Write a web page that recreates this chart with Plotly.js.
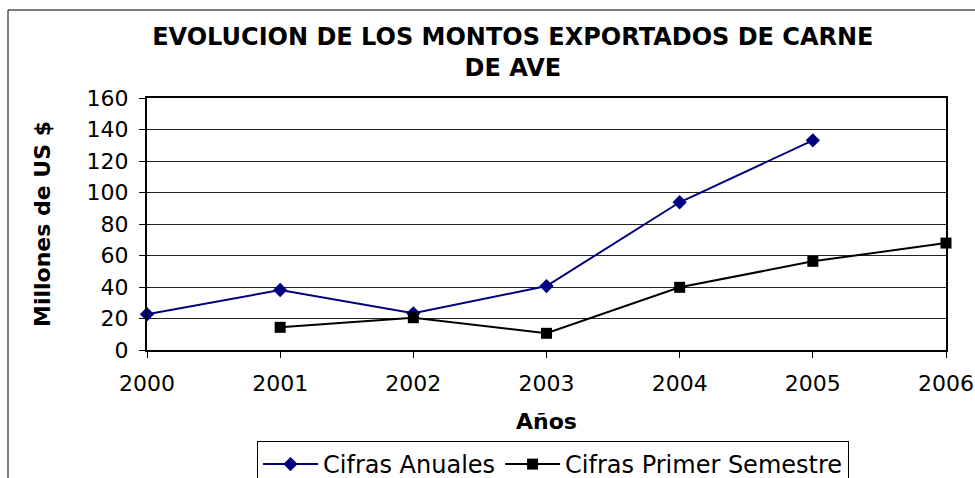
<!DOCTYPE html>
<html>
<head>
<meta charset="utf-8">
<script src="https://cdn.plot.ly/plotly-3.0.1.min.js"></script>
<style>
  html, body { margin: 0; padding: 0; background: #fff; }
  #chart { width: 975px; height: 478px; }
</style>
</head>
<body>
<div id="chart"></div>
<script>
// Data
const years = [2000, 2001, 2002, 2003, 2004, 2005, 2006];
const tickLabels = ['2000', '2001', '2002', '2003', '2004', '2005', '2006'];
const cifrasAnuales = [22.7, 38.1, 23.3, 40.6, 93.8, 133.1, null];
const cifrasPrimerSemestre = [null, 14.4, 20.5, 10.6, 39.8, 56.3, 67.9];
const yTicks = [0, 20, 40, 60, 80, 100, 120, 140, 160];

const FONT = 'DejaVu Sans, Verdana, sans-serif';

const traces = [
  {
    x: years, y: cifrasAnuales, name: 'Cifras Anuales',
    type: 'scatter', mode: 'lines+markers', connectgaps: false,
    line: { color: '#000080', width: 2 },
    marker: { symbol: 'diamond', size: 11, color: '#000080' },
    cliponaxis: false
  },
  {
    x: years, y: cifrasPrimerSemestre, name: 'Cifras Primer Semestre',
    type: 'scatter', mode: 'lines+markers', connectgaps: false,
    line: { color: '#000000', width: 2 },
    marker: { symbol: 'square', size: 11, color: '#000000' },
    cliponaxis: false
  }
];

const layout = {
  width: 975, height: 478,
  margin: { l: 147, r: 29, t: 98, b: 128, autoexpand: false },
  paper_bgcolor: '#ffffff', plot_bgcolor: '#ffffff',
  font: { family: FONT, color: '#000000', size: 22 },
  showlegend: true,
  title: {
    text: 'EVOLUCION DE LOS MONTOS EXPORTADOS DE CARNE<br>DE AVE',
    font: { family: FONT, size: 24, color: '#000000', weight: 'bold' },
    xref: 'container', x: 0.526, xanchor: 'center',
    yref: 'container', y: 1 - 45 / 478, yanchor: 'middle'
  },
  xaxis: {
    range: [2000, 2006], tickmode: 'array', tickvals: years, ticktext: tickLabels,
    ticks: 'outside', ticklen: 6, tickcolor: '#000', tickwidth: 1,
    ticklabelstandoff: 7,
    showline: true, linecolor: '#000', linewidth: 2, mirror: true,
    showgrid: false, zeroline: false,
    tickfont: { family: FONT, size: 22, color: '#000' },
    title: { text: 'Años', font: { family: FONT, size: 22, color: '#000', weight: 'bold' }, standoff: 18 }
  },
  yaxis: {
    range: [0, 160], tickmode: 'array', tickvals: yTicks,
    ticks: 'outside', ticklen: 6, tickcolor: '#000', tickwidth: 1,
    ticklabelstandoff: 6,
    showline: true, linecolor: '#000', linewidth: 2, mirror: true,
    showgrid: true, gridcolor: '#222222', gridwidth: 1, zeroline: false,
    tickfont: { family: FONT, size: 22, color: '#000' },
    title: { text: 'Millones de US $', font: { family: FONT, size: 22, color: '#000', weight: 'bold' }, standoff: 30 }
  },
  legend: {
    orientation: 'h', xref: 'container', yref: 'container',
    x: 257 / 975, xanchor: 'left',
    y: 1 - 441 / 478, yanchor: 'top',
    bordercolor: '#000', borderwidth: 1, bgcolor: '#fff',
    font: { family: FONT, size: 24, color: '#000' },
    itemwidth: 55, tracegroupgap: 0
  },
  shapes: [
    {
      type: 'rect', xref: 'paper', yref: 'paper', layer: 'below',
      x0: (8 - 147) / 799, x1: 1.5, y0: -1.5, y1: (350 - 10) / 252,
      line: { color: '#000', width: 1 }, fillcolor: 'rgba(0,0,0,0)'
    }
  ]
};

Plotly.newPlot('chart', traces, layout, { displayModeBar: false, staticPlot: true });
</script>
</body>
</html>
